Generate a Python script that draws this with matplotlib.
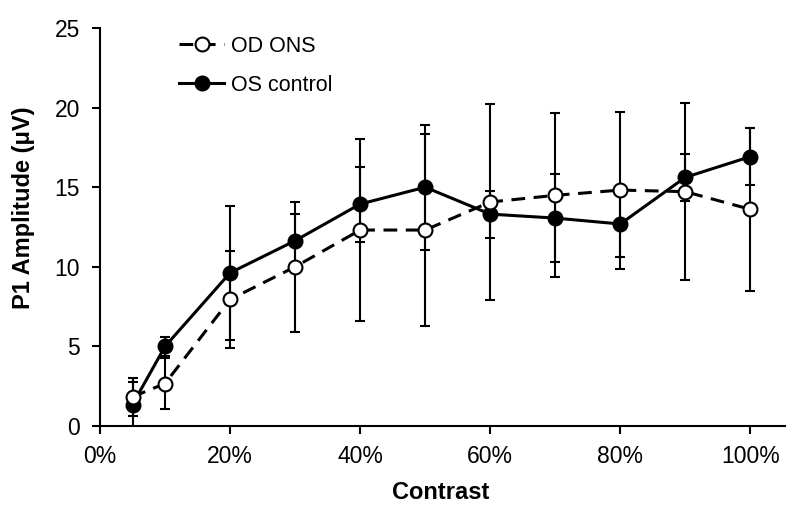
import matplotlib
matplotlib.use("Agg")
import matplotlib.pyplot as plt
from matplotlib.ticker import FuncFormatter
from matplotlib.lines import Line2D

plt.rcParams['font.family'] = ['Liberation Sans', 'DejaVu Sans']

contrast = [5, 10, 20, 30, 40, 50, 60, 70, 80, 90, 100]
od_ons = [1.83, 2.67, 7.95, 10.0, 12.31, 12.31, 14.07, 14.49, 14.82, 14.72, 13.61]
od_ons_err = [1.2, 1.62, 3.02, 4.09, 5.7, 6.03, 6.16, 5.16, 4.93, 5.57, 5.13]
os_control = [1.35, 5.0, 9.62, 11.64, 13.94, 15.0, 13.31, 13.06, 12.69, 15.62, 16.92]
os_control_err = [1.42, 0.6, 4.2, 1.66, 2.36, 3.92, 1.47, 2.77, 2.1, 1.47, 1.77]
xticks = [0, 20, 40, 60, 80, 100]
yticks = [0, 5, 10, 15, 20, 25]

fig = plt.figure(figsize=(8, 5.11), dpi=100)
ax = fig.add_axes([0.125, 0.1663, 0.856, 0.7789])

dash = (0, (4.5, 2.8))
common = dict(color='black', lw=2.2, marker='o', ms=10, mec='black', mew=1.5,
              ecolor='black', elinewidth=1.5, capsize=3.3, capthick=1.6)
ax.errorbar(contrast, os_control, yerr=os_control_err, mfc='black', zorder=3, **common)
ax.errorbar(contrast, od_ons, yerr=od_ons_err, mfc='white', linestyle=dash, zorder=4, **common)

ax.set_xlim(0, 105.3)
ax.set_ylim(0, 25)
ax.set_xticks(xticks)
ax.set_yticks(yticks)
ax.xaxis.set_major_formatter(FuncFormatter(lambda v, p: f"{int(v)}%"))
for s in ['top', 'right']:
    ax.spines[s].set_visible(False)
for s in ['left', 'bottom']:
    ax.spines[s].set_linewidth(1.5)
ax.tick_params(axis='y', direction='out', length=5.5, width=1.5, labelsize=16.5, pad=9)
ax.tick_params(axis='x', direction='out', length=5.5, width=1.5, labelsize=16.5, pad=8)

ax.set_xlabel('Contrast', fontsize=17, fontweight='bold')
ax.set_ylabel('P1 Amplitude (μV)', fontsize=17, fontweight='bold')
ax.xaxis.set_label_coords(0.497, -0.168)
ax.xaxis.label.set_va('center')
ax.yaxis.set_label_coords(-0.112, 0.549)
ax.yaxis.label.set_va('center')

handles = [
    Line2D([], [], color='black', lw=2.2, linestyle=dash, marker='o', ms=10,
           mfc='white', mec='black', mew=1.5),
    Line2D([], [], color='black', lw=2.2, marker='o', ms=10,
           mfc='black', mec='black', mew=1.5),
]
labels = ['OD ONS', 'OS control']
ax.legend(handles, labels, loc='upper left', bbox_to_anchor=(0.224, 0.930),
          bbox_transform=fig.transFigure, frameon=False, fontsize=15.5,
          handlelength=2.1, handletextpad=0.3, labelspacing=0.84,
          borderpad=0, borderaxespad=0)

fig.savefig('out.png', dpi=100)
